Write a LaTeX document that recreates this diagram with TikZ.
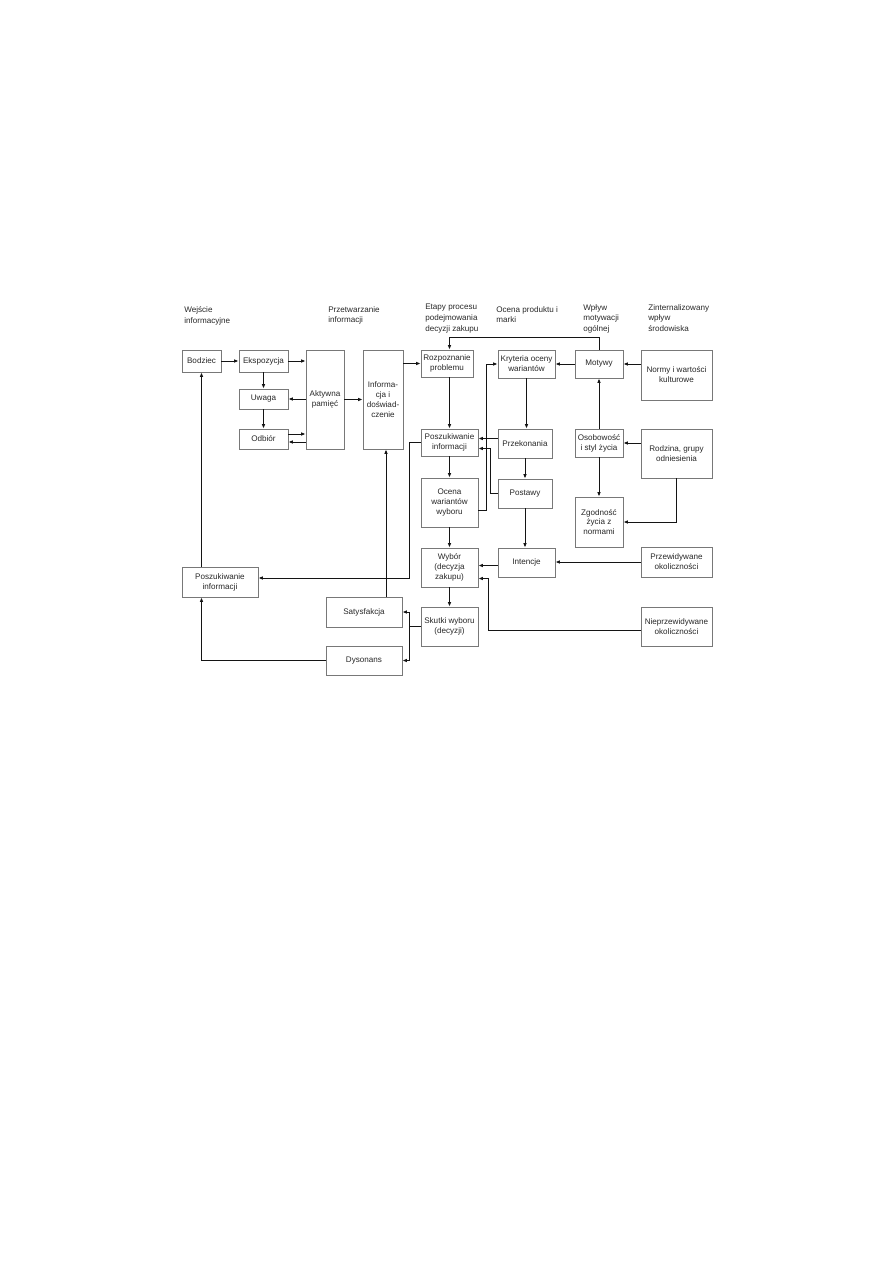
\documentclass[tikz,border=0pt]{standalone}
\usepackage{fontspec}
\setmainfont{Liberation Sans}
\usepackage{tikz}
\usetikzlibrary{
  arrows.meta,
  positioning,
  calc
}
\definecolor{ramka}{RGB}{120,120,120}
\definecolor{linia}{RGB}{20,20,20}
\definecolor{tekst}{RGB}{40,40,40}
\newdimen\pxu
\pxu=0.6667pt
\tikzset{
  box/.style={
    rectangle, draw=ramka, line width=0.5pt, fill=white,
    align=center, inner sep=1pt, text=tekst,
    font=\fontsize{5.4}{6.6}\selectfont
  },
  conn/.style={-{Latex[length=3pt,width=2.4pt]}, line width=0.6pt, color=linia},
  plain/.style={line width=0.6pt, color=linia},
  head/.style={
    anchor=north west, inner sep=0pt, align=left, text=tekst,
    font=\fontsize{5.4}{7.2}\selectfont
  }
}
\begin{document}
\begin{tikzpicture}[x=\pxu,y=-\pxu]
\useasboundingbox (0,0) rectangle (893,1263);

% naglowki kolumn
\node[head] (h1) at (184,306) {Wejście\\informacyjne};
\node[head] (h2) at (328,306) {Przetwarzanie\\informacji};
\node[head] (h3) at (425,304) {Etapy procesu\\podejmowania\\decyzji zakupu};
\node[head] (h4) at (496,306) {Ocena produktu i\\marki};
\node[head] (h5) at (583,304) {Wpływ\\motywacji\\ogólnej};
\node[head] (h6) at (648,304) {Zinternalizowany\\wpływ\\środowiska};

% bloki
\node[box, minimum width=39\pxu, minimum height=22\pxu] (bodziec)  at (201.5,361)   {Bodziec};
\node[box, minimum width=49\pxu, minimum height=22\pxu] (ekspo)    at (263.5,361)   {Ekspozycja};
\node[box, minimum width=49\pxu, minimum height=20\pxu] (uwaga)    at (263.5,399)   {Uwaga};
\node[box, minimum width=49\pxu, minimum height=20\pxu] (odbior)   at (263.5,439)   {Odbiór};
\node[box, minimum width=38\pxu, minimum height=99\pxu] (pamiec)   at (325,399.5)   {Aktywna\\pamięć};
\node[box, minimum width=40\pxu, minimum height=99\pxu] (infodosw) at (383,399.5)   {Informa-\\cja i\\doświad-\\czenie};
\node[box, minimum width=52\pxu, minimum height=27\pxu] (rozpozn)  at (447,363.5)   {Rozpoznanie\\problemu};
\node[box, minimum width=57\pxu, minimum height=28\pxu] (kryteria) at (526.5,364)   {Kryteria oceny\\wariantów};
\node[box, minimum width=48\pxu, minimum height=28\pxu] (motywy)   at (599,364)     {Motywy};
\node[box, minimum width=71\pxu, minimum height=50\pxu] (normy)    at (676.5,375)   {Normy i wartości\\kulturowe};
\node[box, minimum width=57\pxu, minimum height=27\pxu] (poszuk)   at (449.5,442.5) {Poszukiwanie\\informacji};
\node[box, minimum width=54\pxu, minimum height=29\pxu] (przekon)  at (525,443.5)   {Przekonania};
\node[box, minimum width=48\pxu, minimum height=28\pxu] (osobow)   at (599,443)     {Osobowość\\i styl życia};
\node[box, minimum width=71\pxu, minimum height=49\pxu] (rodzina)  at (676.5,453.5) {Rodzina, grupy\\odniesienia};
\node[box, minimum width=57\pxu, minimum height=49\pxu] (ocena)    at (449.5,502.5) {Ocena\\wariantów\\wyboru};
\node[box, minimum width=54\pxu, minimum height=29\pxu] (postawy)  at (525,493.5)   {Postawy};
\node[box, minimum width=48\pxu, minimum height=50\pxu] (zgodnosc) at (599,522)     {Zgodność\\życia z\\normami};
\node[box, minimum width=57\pxu, minimum height=39\pxu] (wybor)    at (449.5,567.5) {Wybór\\(decyzja\\zakupu)};
\node[box, minimum width=57\pxu, minimum height=29\pxu] (intencje) at (526.5,562.5) {Intencje};
\node[box, minimum width=71\pxu, minimum height=30\pxu] (przewid)  at (676.5,562)   {Przewidywane\\okoliczności};
\node[box, minimum width=71\pxu, minimum height=39\pxu] (nieprzew) at (676.5,626.5) {Nieprzewidywane\\okoliczności};
\node[box, minimum width=57\pxu, minimum height=39\pxu] (skutki)   at (449.5,626.5) {Skutki wyboru\\(decyzji)};
\node[box, minimum width=76\pxu, minimum height=30\pxu] (satysf)   at (364,612)     {Satysfakcja};
\node[box, minimum width=76\pxu, minimum height=29\pxu] (dysonans) at (364,660.5)   {Dysonans};
\node[box, minimum width=76\pxu, minimum height=30\pxu] (poszukL)  at (220,582)     {Poszukiwanie\\informacji};

% przetwarzanie informacji
\draw[conn] (bodziec.east) -- (ekspo.west);
\draw[conn] (ekspo.east) -- (ekspo.east -| pamiec.west);
\draw[conn] (ekspo.south) -- (uwaga.north);
\draw[conn] (uwaga.south) -- (odbior.north);
\draw[conn] (pamiec.west |- uwaga.east) -- (uwaga.east);
\draw[conn] ([yshift=5\pxu]odbior.east) -- ([yshift=5\pxu]odbior.east -| pamiec.west);
\draw[conn] ([yshift=-3\pxu]odbior.east -| pamiec.west) -- ([yshift=-3\pxu]odbior.east);
\draw[conn] (pamiec.east) -- (infodosw.west);
\draw[conn] (infodosw.east |- rozpozn.west) -- (rozpozn.west);

% etapy procesu
\draw[conn] (motywy.north) |- ([yshift=12\pxu]rozpozn.north -| poszuk.north) -- (rozpozn.north -| poszuk.north);
\draw[conn] (rozpozn.south -| poszuk.north) -- (poszuk.north);
\draw[conn] (poszuk.south) -- (ocena.north);
\draw[conn] (ocena.south) -- (wybor.north);
\draw[conn] (wybor.south) -- (skutki.north);
\draw[conn] ([yshift=5\pxu]przekon.west) -- ([yshift=5\pxu]przekon.west -| poszuk.east);
\draw[conn] (postawy.west) -- ++(-7,0) |- ([yshift=-6\pxu]poszuk.east);
\draw[conn] ([yshift=-7.5\pxu]ocena.east) -- ++(8,0) |- (kryteria.west);
\draw[conn] ([yshift=-3\pxu]intencje.west) -- ([yshift=-3\pxu]intencje.west -| wybor.east);
\draw[conn] ([yshift=-4\pxu]nieprzew.west) -| ([xshift=10\pxu,yshift=-11\pxu]wybor.east) -- ([yshift=-11\pxu]wybor.east);

% ocena produktu i motywacja
\draw[conn] (kryteria.south) -- (kryteria.south |- przekon.north);
\draw[conn] (przekon.south) -- (postawy.north);
\draw[conn] (postawy.south) -- (postawy.south |- intencje.north);
\draw[conn] (motywy.west) -- (kryteria.east);
\draw[conn] (normy.west |- motywy.east) -- (motywy.east);
\draw[conn] (osobow.north) -- (motywy.south);
\draw[conn] (rodzina.west |- osobow.east) -- (osobow.east);
\draw[conn] (osobow.south) -- (zgodnosc.north);
\draw[conn] (rodzina.south) |- (zgodnosc.east);
\draw[conn] (przewid.west) -- (przewid.west -| intencje.east);

% skutki i sprzezenia zwrotne
\draw[plain] (skutki.west) -- ++(-11,0) coordinate (rozgal);
\draw[conn] (rozgal) |- (satysf.east);
\draw[conn] (rozgal) |- (dysonans.east);
\draw[conn] ([xshift=22\pxu]satysf.north) -- ([xshift=22\pxu]satysf.north |- infodosw.south);
\draw[conn] (poszuk.west) -- ++(-11,0) |- ([yshift=4\pxu]poszukL.east);
\draw[conn] (poszukL.north -| bodziec.south) -- (bodziec.south);
\draw[conn] (dysonans.west) -| (bodziec.south |- poszukL.south);
\end{tikzpicture}
\end{document}
